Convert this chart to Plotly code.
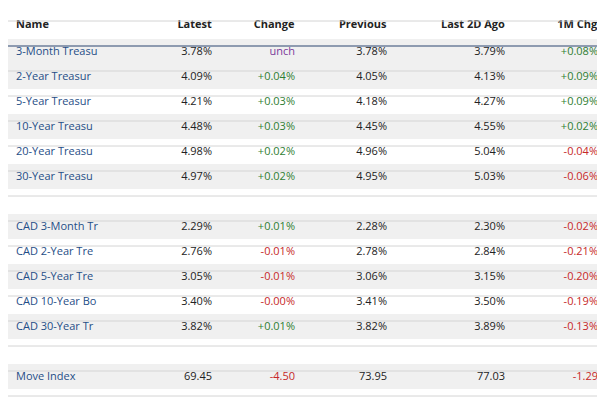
import plotly.graph_objects as go

names = ["3-Month Treasu", "2-Year Treasur", "5-Year Treasur", "10-Year Treasu", "20-Year Treasu",
         "30-Year Treasu", "", "CAD 3-Month Tr", "CAD 2-Year Tre", "CAD 5-Year Tre",
         "CAD 10-Year Bo", "CAD 30-Year Tr", "", "Move Index"]
latest = ["3.78%", "4.09%", "4.21%", "4.48%", "4.98%", "4.97%", "",
          "2.29%", "2.76%", "3.05%", "3.40%", "3.82%", "", "69.45"]
change = ["unch", "+0.04%", "+0.03%", "+0.03%", "+0.02%", "+0.02%", "",
          "+0.01%", "-0.01%", "-0.01%", "-0.00%", "+0.01%", "", "-4.50"]
previous = ["3.78%", "4.05%", "4.18%", "4.45%", "4.96%", "4.95%", "",
            "2.28%", "2.78%", "3.06%", "3.41%", "3.82%", "", "73.95"]
last2d = ["3.79%", "4.13%", "4.27%", "4.55%", "5.04%", "5.03%", "",
          "2.30%", "2.84%", "3.15%", "3.50%", "3.89%", "", "77.03"]
chg1m = ["+0.08%", "+0.09%", "+0.09%", "+0.02%", "-0.04%", "-0.06%", "",
         "-0.02%", "-0.21%", "-0.20%", "-0.19%", "-0.13%", "", "-1.29"]
headers = ["Name", "Latest", "Change", "Previous", "Last 2D Ago", "1M Chg", ""]

W, H = 605, 411
TOP, ROW = 13, 25


def col_color(v):
    if v == "unch":
        return "#7a3a9a"
    if v.startswith("+"):
        return "#2e7d32"
    if v.startswith("-"):
        return "#c62828"
    return "#222"


n = len(names)
blank = [""] * n
fills = ["#f0f0f0" if (i % 2 == 1 or i == 0) else "white" for i in range(n)]
fonts = [["#1f4e87"] * n, ["#222"] * n, [col_color(v) for v in change],
         ["#222"] * n, ["#222"] * n, [col_color(v) for v in chg1m], ["#222"] * n]

fig = go.Figure(go.Table(
    columnwidth=[150, 62, 83, 92, 118, 93, 7],
    header=dict(values=[f"<b>{h}</b>" if h else "" for h in headers], height=ROW,
                fill_color="white", line_width=0, align=["left"] + ["right"] * 6,
                font=dict(family="Open Sans", size=11, color="#222")),
    cells=dict(values=[names, latest, change, previous, last2d, chg1m, blank], height=ROW,
               fill_color=[fills] * 7, line_width=0, align=["left"] + ["right"] * 6,
               font=dict(family="Open Sans", size=11, color=fonts)),
    domain=dict(x=[0, 1], y=[0, 1]),
))

shapes = []
for k in range(n + 2):
    py = TOP + k * ROW
    dark = k == 1
    shapes.append(dict(type="line", xref="paper", yref="paper", x0=0, x1=1,
                       y0=1 - py / H, y1=1 - py / H,
                       line=dict(color="#8e9bb0" if dark else "#d4d4d4", width=2 if dark else 1)))

fig.update_layout(width=W, height=H, margin=dict(l=0, r=0, t=0, b=0),
                  paper_bgcolor="white", shapes=shapes)
fig.write_html("out.html")
